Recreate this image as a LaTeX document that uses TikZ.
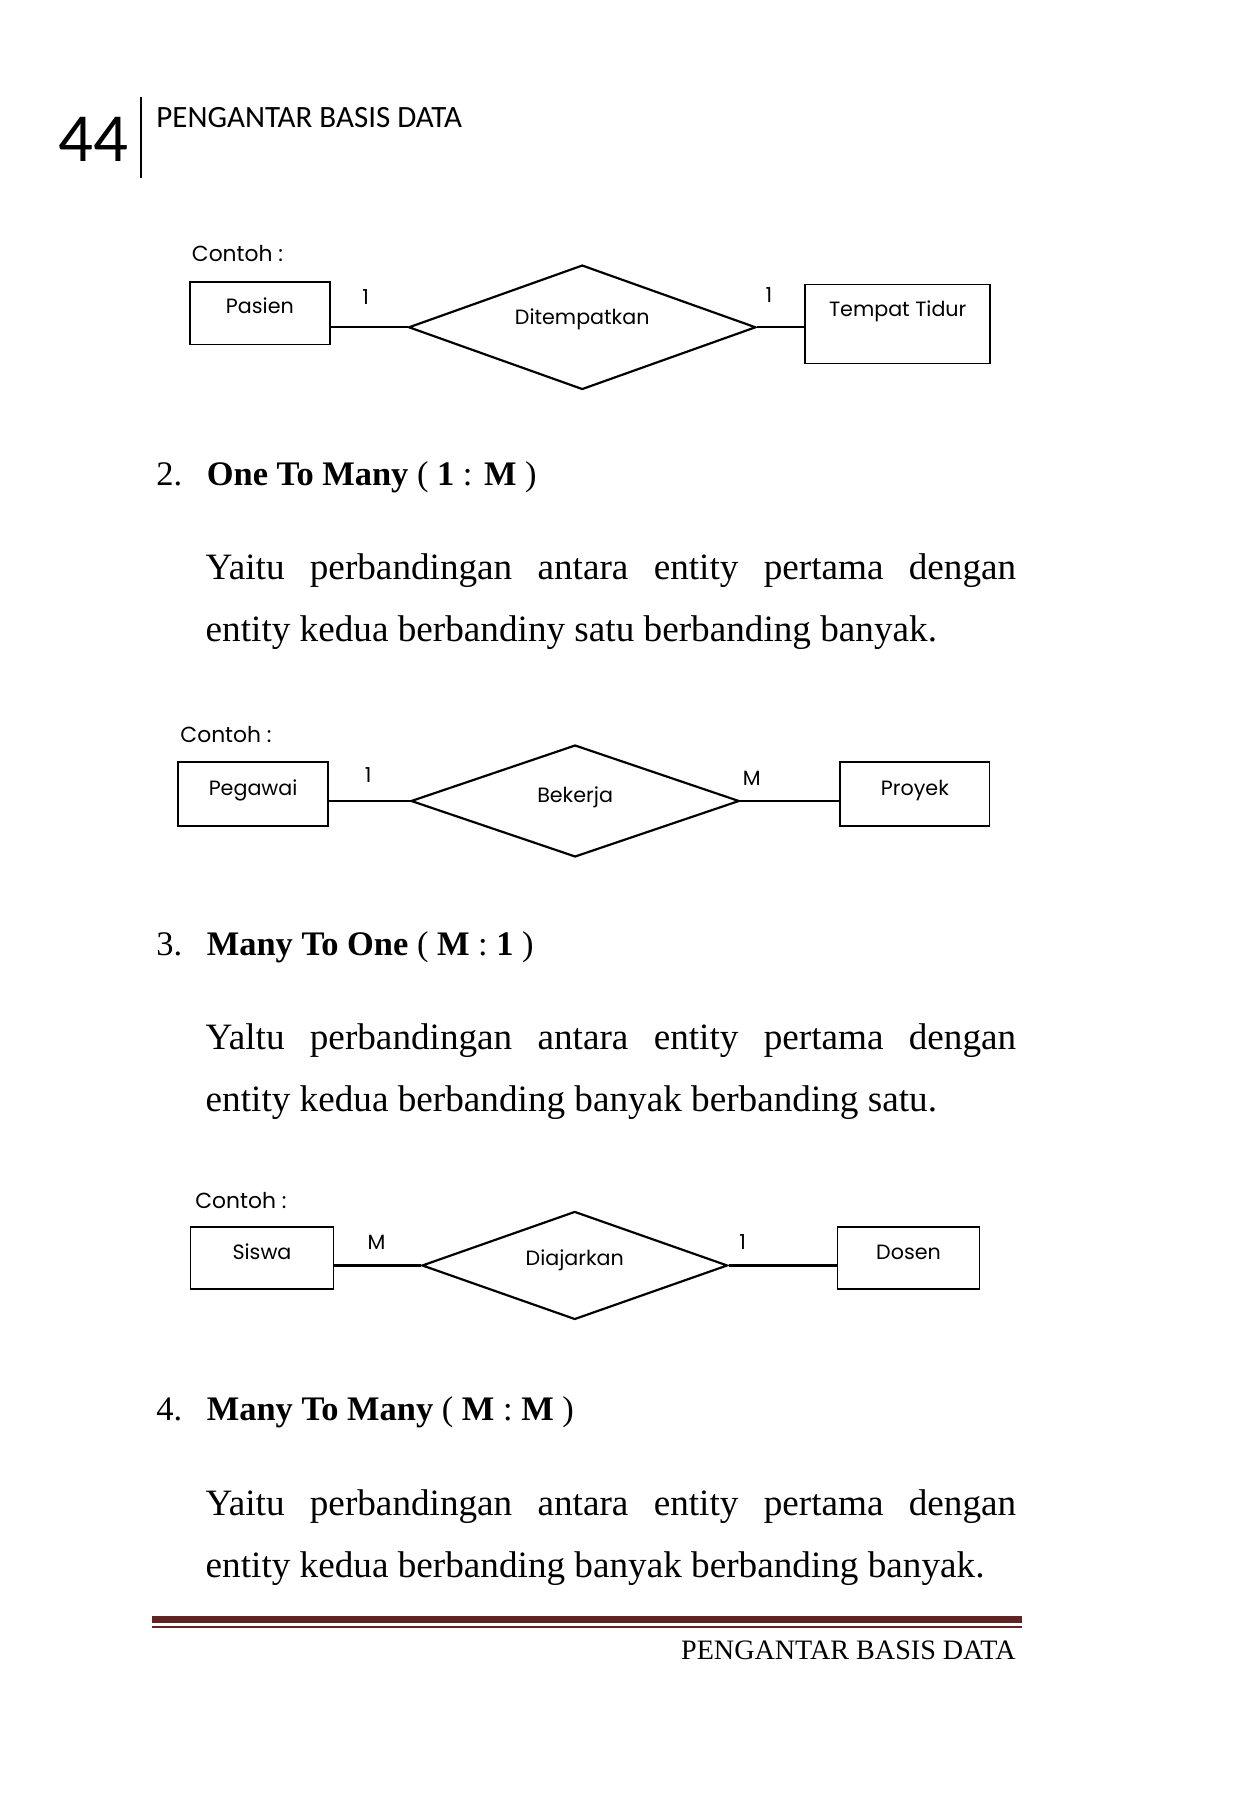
\documentclass[tikz,border=0pt]{standalone}
\usepackage{fontspec}
\setmainfont{Liberation Serif}
\newfontfamily\hdrfont{Carlito}
\newfontfamily\erdfont{Poppins}
\usetikzlibrary{shapes.geometric}
\definecolor{footred}{HTML}{622423}
\tikzset{
  ent/.style={draw, line width=1.6pt, inner sep=0pt, text height=12.5pt,
    font=\erdfont\fontsize{18}{21}\selectfont},
  rel/.style={draw, diamond, shape aspect=2.8, line width=1.9pt, inner sep=0pt, text height=12.5pt,
    font=\erdfont\fontsize{18}{21}\selectfont},
  card/.style={inner sep=0pt, font=\erdfont\fontsize{18}{21}\selectfont},
  contoh/.style={anchor=base west, inner sep=0pt, font=\erdfont\fontsize{19}{22}\selectfont},
  conn/.style={line width=1.9pt},
  numtxt/.style={anchor=base west, inner sep=0pt, font=\fontsize{30}{36}\selectfont},
  body/.style={anchor=base west, inner sep=0pt, font=\fontsize{32.4}{36}\selectfont},
}
\begin{document}
\begin{tikzpicture}[x=1pt,y=-1pt]
\useasboundingbox (0,0) rectangle (1091,1568);
\fill[white] (0,0) rectangle (1091,1568);

% header
\node[anchor=base west, inner sep=0pt, font=\hdrfont\fontsize{60}{60}\selectfont] (pgno) at (51,141) {44};
\coordinate (rt) at (123,84.5);
\coordinate (rb) at (123,155);
\draw[line width=1.5pt] (rt) -- (rb);
\node[anchor=base west, inner sep=0pt, font=\hdrfont\fontsize{27}{27}\selectfont] (hdr) at (136,110.7) {PENGANTAR BASIS DATA};

% diagram 1
\node[contoh] (ct1) at (167,228) {Contoh :};
\node[ent, minimum width=122pt, minimum height=54.5pt, text depth=12.4pt] (pasien) at (226.4,272.8) {Pasien};
\node[rel, minimum width=302.5pt, minimum height=108.4pt, text depth=18pt] (d1) at (507.2,285.1) {Ditempatkan};
\node[ent, minimum width=161pt, minimum height=68.8pt, text depth=26pt] (tempat) at (782,282.2) {Tempat Tidur};
\draw[conn] (d1.west -| pasien.east) -- (d1.west);
\draw[conn] (d1.east) -- (d1.east -| tempat.west);
\node[card] (c1a) at (318.6,258.5) {1};
\node[card] (c1b) at (669.8,257) {1};

% heading 2
\node[numtxt] (n2) at (136,423) {2.};
\node[numtxt] (h2) at (180,423) {\textbf{One To Many} ( \textbf{1} : \textbf{M} )};
\node[body] (p2a) at (179,505) {\makebox[706pt][s]{Yaitu perbandingan antara entity pertama dengan}};
\node[body] (p2b) at (179,559) {entity kedua berbandiny satu berbanding banyak.};

% diagram 2
\node[contoh] (ct2) at (157,647) {Contoh :};
\node[ent, minimum width=131pt, minimum height=56pt, text depth=9.5pt] (pegawai) at (220.5,691.75) {Pegawai};
\node[rel, minimum width=286pt, minimum height=97.5pt, text depth=10pt] (d2) at (501,697.75) {Bekerja};
\node[ent, minimum width=130pt, minimum height=56pt, text depth=9.5pt] (proyek) at (797,691.75) {Proyek};
\draw[conn] (d2.west -| pegawai.east) -- (d2.west);
\draw[conn] (d2.east) -- (d2.east -| proyek.west);
\node[card] (c2a) at (320.7,675.4) {1};
\node[card] (c2b) at (654.9,678) {M};

% heading 3
\node[numtxt] (n3) at (136,832) {3.};
\node[numtxt] (h3) at (180,832) {\textbf{Many To One} ( \textbf{M} : \textbf{1} )};
\node[body] (p3a) at (179,914) {\makebox[706pt][s]{Yaltu perbandingan antara entity pertama dengan}};
\node[body] (p3b) at (179,968) {entity kedua berbanding banyak berbanding satu.};

% diagram 3
\node[contoh] (ct3) at (170,1053) {Contoh :};
\node[ent, minimum width=124.6pt, minimum height=53.7pt, text depth=10pt] (siswa) at (228.2,1095.75) {Siswa};
\node[rel, minimum width=266.2pt, minimum height=94.1pt, text depth=11.7pt] (d3) at (500.7,1102.35) {Diajarkan};
\node[ent, minimum width=123.8pt, minimum height=53.7pt, text depth=10pt] (dosen) at (791.4,1095.75) {Dosen};
\draw[conn] (d3.west -| siswa.east) -- (d3.west);
\draw[conn] (d3.east) -- (d3.east -| dosen.west);
\node[card] (c3a) at (327.9,1082) {M};
\node[card] (c3b) at (646.9,1082) {1};

% heading 4
\node[numtxt] (n4) at (136,1237.5) {4.};
\node[numtxt] (h4) at (180,1237.5) {\textbf{Many To Many} ( \textbf{M} : \textbf{M} )};
\node[body] (p4a) at (179,1320) {\makebox[706pt][s]{Yaitu perbandingan antara entity pertama dengan}};
\node[body] (p4b) at (179,1374) {entity kedua berbanding banyak berbanding banyak.};

% footer
\coordinate (fl) at (132,1411);
\coordinate (fr) at (890,1411);
\draw[footred, line width=6pt] (fl) -- (fr);
\draw[footred, line width=1.5pt] ([yshift=-6pt]fl) -- ([yshift=-6pt]fr);
\node[anchor=base east, inner sep=0pt, font=\fontsize{24.5}{26}\selectfont] (ftr) at (885,1446) {PENGANTAR BASIS DATA};
\end{tikzpicture}
\end{document}
